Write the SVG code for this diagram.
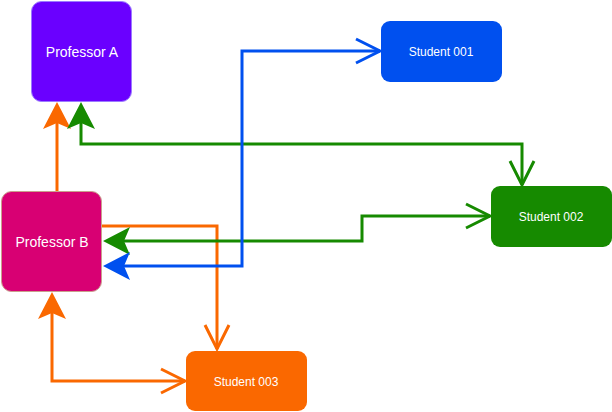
<svg xmlns="http://www.w3.org/2000/svg" width="612" height="412" viewBox="0 0 612 412">
<style>
.lbl{font-family:"Liberation Sans",Arial,Helvetica,sans-serif;fill:#ffffff;text-anchor:middle}
.big{font-size:14px}
.small{font-size:12px}
.c{fill:none;stroke-width:3}
</style>
<defs>
<marker id="fOrange" markerUnits="userSpaceOnUse" markerWidth="40" markerHeight="40" viewBox="-10 -20 40 40" refX="0" refY="0" orient="auto-start-reverse" overflow="visible"><path d="M21,0 L-6,-14 L0,0 L-6,14 Z" fill="#fa6800"/></marker>
<marker id="fGreen" markerUnits="userSpaceOnUse" markerWidth="40" markerHeight="40" viewBox="-10 -20 40 40" refX="0" refY="0" orient="auto-start-reverse" overflow="visible"><path d="M21,0 L-6,-14 L0,0 L-6,14 Z" fill="#168a00"/></marker>
<marker id="fBlue" markerUnits="userSpaceOnUse" markerWidth="40" markerHeight="40" viewBox="-10 -20 40 40" refX="0" refY="0" orient="auto-start-reverse" overflow="visible"><path d="M21,0 L-6,-14 L0,0 L-6,14 Z" fill="#0050ef"/></marker>
<marker id="oOrange" markerUnits="userSpaceOnUse" markerWidth="40" markerHeight="40" viewBox="-30 -20 40 40" refX="0" refY="0" orient="auto" overflow="visible"><path d="M-24,-12 L0,0 L-24,12" fill="none" stroke="#fa6800" stroke-width="3"/></marker>
<marker id="oGreen" markerUnits="userSpaceOnUse" markerWidth="40" markerHeight="40" viewBox="-30 -20 40 40" refX="0" refY="0" orient="auto" overflow="visible"><path d="M-24,-12 L0,0 L-24,12" fill="none" stroke="#168a00" stroke-width="3"/></marker>
<marker id="oBlue" markerUnits="userSpaceOnUse" markerWidth="40" markerHeight="40" viewBox="-30 -20 40 40" refX="0" refY="0" orient="auto" overflow="visible"><path d="M-24,-12 L0,0 L-24,12" fill="none" stroke="#0050ef" stroke-width="3"/></marker>
</defs>
<rect width="612" height="412" fill="#ffffff"/>
<g id="connectors">
<path class="c" stroke="#fa6800" d="M57,191 L57,123" marker-end="url(#fOrange)"/>
<path class="c" stroke="#fa6800" d="M102,226 L217,226 L217,349" marker-end="url(#oOrange)"/>
<path class="c" stroke="#fa6800" d="M52,313 L52,381 L185,381" marker-start="url(#fOrange)" marker-end="url(#oOrange)"/>
<path class="c" stroke="#168a00" d="M81,123 L81,144 L522,144 L522,185" marker-start="url(#fGreen)" marker-end="url(#oGreen)"/>
<path class="c" stroke="#168a00" d="M124,241 L362,241 L362,216 L490,216" marker-start="url(#fGreen)" marker-end="url(#oGreen)"/>
<path class="c" stroke="#0050ef" d="M124,266 L242,266 L242,51 L380,51" marker-start="url(#fBlue)" marker-end="url(#oBlue)"/>
</g>
<g id="professor-a">
<rect x="31.5" y="1.5" width="100" height="100" rx="10" fill="#6a00ff" stroke="#9b7bff" stroke-width="1"/>
<text class="lbl big" x="82" y="57">Professor A</text>
</g>
<g id="professor-b">
<rect x="1.5" y="191.5" width="100" height="100" rx="10" fill="#d80073" stroke="#c9a08c" stroke-width="1"/>
<text class="lbl big" x="52" y="247">Professor B</text>
</g>
<g id="student-001">
<rect x="381" y="21" width="121" height="61" rx="9" fill="#0050ef"/>
<text class="lbl small" x="441" y="56">Student 001</text>
</g>
<g id="student-002">
<rect x="491" y="186" width="121" height="61" rx="9" fill="#168a00"/>
<text class="lbl small" x="551" y="221">Student 002</text>
</g>
<g id="student-003">
<rect x="186" y="351" width="121" height="60" rx="9" fill="#fa6800"/>
<text class="lbl small" x="246" y="386">Student 003</text>
</g>
</svg>
